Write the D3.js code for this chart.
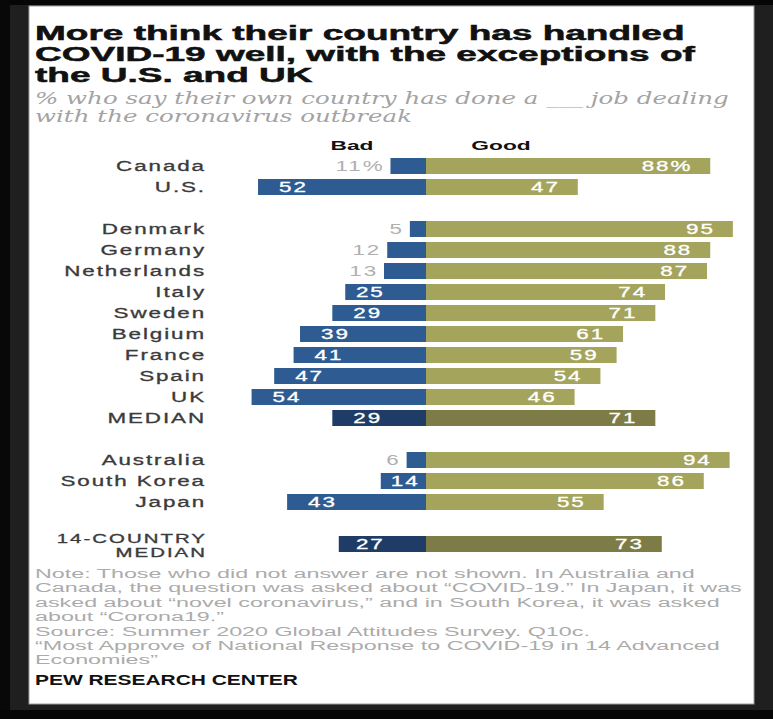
<!DOCTYPE html>
<html>
<head>
<meta charset="utf-8">
<script src="https://cdn.jsdelivr.net/npm/d3@7"></script>
<style>
  body { margin: 0; background: #1d1d1d; }
  svg { display: block; }
  .title { font-family: "Liberation Sans", Arial, sans-serif; font-weight: bold; font-size: 20px; fill: #111; stroke: #111; stroke-width: 0.5px; }
  .subtitle { font-family: "DejaVu Serif", Georgia, serif; font-style: italic; font-size: 16px; fill: #a3a3a3; }
  .note { font-family: "Liberation Sans", Arial, sans-serif; font-size: 12.5px; fill: #ababab; }
  .credit { font-family: "Liberation Sans", Arial, sans-serif; font-weight: bold; font-size: 14px; fill: #111; }
  .head { font-family: "Liberation Sans", Arial, sans-serif; font-weight: bold; font-size: 13px; fill: #111; }
  .label { font-family: "Liberation Sans", Arial, sans-serif; font-size: 14px; letter-spacing: 1.2px; fill: #3b3b3b; stroke: #3b3b3b; stroke-width: 0.3px; }
  .label.small { font-size: 12px; }
  .value { font-family: "Liberation Sans", Arial, sans-serif; font-size: 14px; letter-spacing: 1.2px; stroke-width: 0.3px; }
</style>
</head>
<body>
<div id="chart"></div>
<script>
// rows of the chart, top to bottom
var countries = ["Canada", "U.S.", "Denmark", "Germany", "Netherlands", "Italy", "Sweden",
                 "Belgium", "France", "Spain", "UK", "MEDIAN", "Australia", "South Korea",
                 "Japan", "14-COUNTRY MEDIAN"];
var badPct  = [11, 52, 5, 12, 13, 25, 29, 39, 41, 47, 54, 29, 6, 14, 43, 27];
var goodPct = [88, 47, 95, 88, 87, 74, 71, 61, 59, 54, 46, 71, 94, 86, 55, 73];
// an empty row is left after these
var gapAfter = ["U.S.", "MEDIAN", "Japan"];

var titleLines = ["More think their country has handled",
                  "COVID-19 well, with the exceptions of",
                  "the U.S. and UK"];
var subtitleLines = ["% who say their own country has done a ___ job dealing",
                     "with the coronavirus outbreak"];
var noteLines = ["Note: Those who did not answer are not shown. In Australia and",
                 "Canada, the question was asked about \u201cCOVID-19.\u201d In Japan, it was",
                 "asked about \u201cnovel coronavirus,\u201d and in South Korea, it was asked",
                 "about \u201cCorona19.\u201d",
                 "Source: Summer 2020 Global Attitudes Survey. Q10c.",
                 "\u201cMost Approve of National Response to COVID-19 in 14 Advanced",
                 "Economies\u201d"];
var credit = "PEW RESEARCH CENTER";

var W = 773, H = 719;
var blue = "#2d5b92", olive = "#a5a45c", blueDark = "#1f3c66", oliveDark = "#7d7c46";

var svg = d3.select("#chart").append("svg")
    .attr("width", W)
    .attr("height", H);

// dark photo frame round the white card
svg.append("rect").attr("width", W).attr("height", H).attr("fill", "#1f1f1f");
svg.append("rect").attr("width", W).attr("height", 5).attr("fill", "#060606");
svg.append("rect").attr("width", 10).attr("height", H).attr("fill", "#080808");
svg.append("rect").attr("y", 710).attr("width", W).attr("height", 9).attr("fill", "#060606");
svg.append("rect")
    .attr("x", 29).attr("y", 6)
    .attr("width", 725).attr("height", 698)
    .attr("fill", "#fff")
    .attr("stroke", "#9d9d9d");

// text is wide in the picture, so every text is stretched sideways
function addText(parent, x, y, str, kx, cls) {
  return parent.append("text")
      .attr("class", cls)
      .attr("transform", "translate(" + x + "," + y + ") scale(" + kx + ",1)")
      .text(str);
}

// a block of lines, stretched so that one line gets a given width
function textBlock(lines, x, y0, lh, cls, refIndex, refWidth) {
  var g = svg.append("g");
  var texts = lines.map(function(s) {
    return g.append("text").attr("class", cls).text(s);
  });
  var kx = refWidth / texts[refIndex].node().getComputedTextLength();
  texts.forEach(function(t, i) {
    t.attr("transform", "translate(" + x + "," + (y0 + i * lh) + ") scale(" + kx + ",1)");
  });
}

textBlock(titleLines, 35, 40, 21, "title", 1, 660);
textBlock(subtitleLines, 35, 104, 18, "subtitle", 0, 694);
textBlock(noteLines, 35, 578, 14.4, "note", 1, 707);
textBlock([credit], 35, 685, 0, "credit", 0, 263);

// row positions, with empty rows between the groups
var rowKeys = [];
countries.forEach(function(c) {
  rowKeys.push(c);
  if (gapAfter.indexOf(c) >= 0) rowKeys.push("gap-" + c);
});

var y = d3.scaleBand()
    .domain(rowKeys)
    .range([155.5, 155.5 + rowKeys.length * 21])
    .paddingInner(0.238)
    .paddingOuter(0.119);

var zero = 426;
var x = d3.scaleLinear().domain([0, 100]).range([0, 323]);

var kxLabel = 1.6;

addText(svg, 352, 150, "Bad", 1.75, "head").attr("text-anchor", "middle");
addText(svg, 501, 150, "Good", 1.75, "head").attr("text-anchor", "middle");

var rows = countries.map(function(c, i) {
  return { name: c, bad: badPct[i], good: goodPct[i], median: c.indexOf("MEDIAN") >= 0, first: i === 0 };
});

var row = svg.append("g").selectAll("g")
    .data(rows)
    .enter().append("g");

row.append("rect")
    .attr("x", function(d) { return zero - x(d.bad); })
    .attr("y", function(d) { return y(d.name); })
    .attr("width", function(d) { return x(d.bad); })
    .attr("height", y.bandwidth())
    .attr("fill", function(d) { return d.median ? blueDark : blue; });

row.append("rect")
    .attr("x", zero)
    .attr("y", function(d) { return y(d.name); })
    .attr("height", y.bandwidth())
    .attr("width", function(d) { return x(d.good); })
    .attr("fill", function(d) { return d.median ? oliveDark : olive; });

row.each(function(d) {
  var g = d3.select(this);
  var cy = y(d.name) + y.bandwidth() / 2;

  // country names, right aligned
  if (d.name === "14-COUNTRY MEDIAN") {
    addText(g, 207, cy - 1, "14-COUNTRY", 1.7, "label small").attr("text-anchor", "end");
    addText(g, 207, cy + 13, "MEDIAN", 1.7, "label small").attr("text-anchor", "end");
  } else {
    addText(g, 206, cy + 5, d.name, kxLabel, "label").attr("text-anchor", "end");
  }

  // bad share
  var w = x(d.bad), start = zero - w;
  var badText = d.bad + (d.first ? "%" : "");
  if (d.bad >= 14) {
    var pad = Math.max(10, Math.min(21, w - 70));
    addText(g, start + pad, cy + 5, badText, kxLabel, "value")
        .attr("fill", "#fff").attr("stroke", "#fff");
  } else {
    addText(g, start - 6, cy + 5, badText, kxLabel, "value")
        .attr("text-anchor", "end").attr("fill", "#b0b0b0").attr("stroke", "none");
  }

  // good share
  var goodText = d.good + (d.first ? "%" : "");
  addText(g, zero + x(d.good) - 18, cy + 5, goodText, kxLabel, "value")
      .attr("text-anchor", "end").attr("fill", "#fff").attr("stroke", "#fff");
});
</script>
</body>
</html>
